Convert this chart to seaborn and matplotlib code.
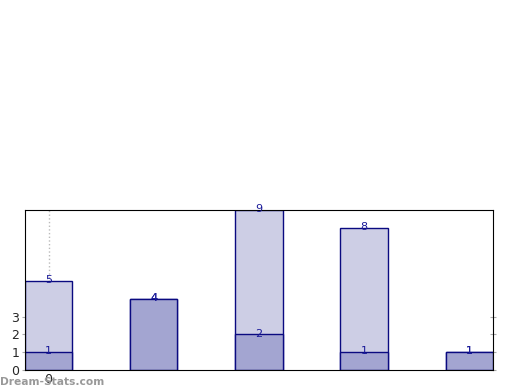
import numpy as np
import matplotlib
matplotlib.use("Agg")
import matplotlib.pyplot as plt
import seaborn as sns

# --- data ---
positions = [0, 1, 2, 3, 4]
totals = [5, 4, 9, 8, 1]
counts = [1, 4, 2, 1, 1]
y_ticks = [0, 1, 2, 3]
x_tick_labels = ["0"]

sns.set_style("white")
plt.rcParams['font.family'] = ['DejaVu Sans']

fig = plt.figure(figsize=(5.2, 3.9), dpi=100)
ax = fig.add_axes([0.048, 0.0513, 0.9, 0.41])

light = "#cdcee5"
dark = "#a3a5d1"
edge = "#0a0a80"

sns.barplot(x=positions, y=totals, color=light, width=0.45, edgecolor=edge,
            linewidth=1, saturation=1, native_scale=True, ax=ax)
sns.barplot(x=positions, y=counts, color=dark, width=0.45, edgecolor=edge,
            linewidth=1, saturation=1, native_scale=True, ax=ax)

for cont in ax.containers:
    ax.bar_label(cont, padding=-3, fontsize=8, color="#1a1a99")

ax.set_xlim(-0.225, 4.225)
ax.set_ylim(0, 9)
ax.set_yticks(y_ticks)
ax.set_xticks([0])
ax.set_xticklabels(x_tick_labels)
ax.tick_params(axis="both", labelsize=9, length=4, color="#aaaaaa", pad=2)
ax.tick_params(axis="y", right=True, left=True, direction="inout")
ax.tick_params(axis="x", bottom=False, pad=-2)
ax.axvline(0, color="#bbbbbb", linestyle=":", linewidth=1, zorder=0)
ax.set_xlabel("")
ax.set_ylabel("")
for s in ax.spines.values():
    s.set_color("black")
    s.set_linewidth(0.8)

fig.text(0.0, 0.013, "Dream-Stats.com", fontsize=7.7, color="#999999",
         fontweight="bold")

fig.savefig("out.png", dpi=100)
